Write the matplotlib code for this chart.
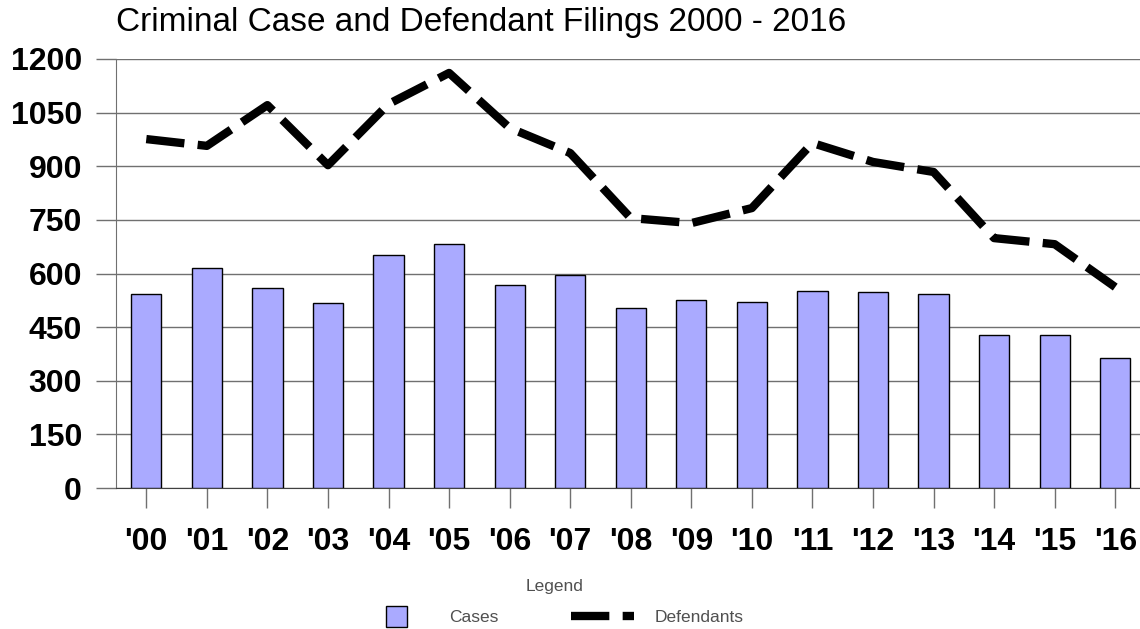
import matplotlib
matplotlib.use("Agg")
import matplotlib.pyplot as plt
import matplotlib.patches as mpatches
from matplotlib.lines import Line2D
from matplotlib.legend_handler import HandlerPatch

plt.rcParams['font.family'] = ['Liberation Sans', 'DejaVu Sans']

# ---------- data ----------
years = ["'00", "'01", "'02", "'03", "'04", "'05", "'06", "'07", "'08",
         "'09", "'10", "'11", "'12", "'13", "'14", "'15", "'16"]
cases = [543, 615, 559, 517, 652, 682, 568, 596, 503,
         526, 520, 551, 548, 543, 428, 428, 364]
defendants = [976, 957, 1071, 903, 1074, 1161, 1007, 937, 755,
              741, 783, 965, 912, 884, 699, 682, 562]
yticks = [0, 150, 300, 450, 600, 750, 900, 1050, 1200]

bar_color = '#AAAAFF'
grid_color = '#707070'

fig = plt.figure(figsize=(11.4, 6.29), dpi=100)
ax = fig.add_axes([116 / 1140, 141 / 629, 1 - 116 / 1140, 429 / 629])

x = list(range(len(years)))
ax.bar(x, cases, width=0.5, color=bar_color, edgecolor='black', linewidth=1, zorder=3)
ax.plot(x, defendants, color='black', linewidth=6, dashes=(4.6, 1.6),
        dash_capstyle='butt', zorder=4)

ax.set_xlim(-0.5, -0.5 + 1024 / 60.56)
ax.set_ylim(0, 1200)
ax.set_yticks(yticks)
ax.set_yticklabels([str(v) for v in yticks], fontsize=23, fontweight='bold')
ax.set_xticks(x)
ax.set_xticklabels(years, fontsize=23, fontweight='bold')
ax.tick_params(axis='y', length=14.4, width=1, color=grid_color, pad=10)
ax.tick_params(axis='x', length=14.4, width=1, color=grid_color, pad=14)
ax.yaxis.grid(True, color=grid_color, linewidth=1, zorder=0)
ax.set_axisbelow(True)

for side in ['top', 'right']:
    ax.spines[side].set_visible(False)
ax.spines['left'].set_color(grid_color)
ax.spines['bottom'].set_color('#404040')

fig.text(116 / 1140, 1 - 31 / 629, "Criminal Case and Defendant Filings 2000 - 2016",
         fontsize=24, va='baseline', ha='left')


# ---------- legend ----------
def square_patch(legend, orig_handle, xdescent, ydescent, width, height, fontsize):
    s = 15
    return mpatches.Rectangle((-xdescent + width / 3, -ydescent + height / 2 - s / 2), s, s)


case_handle = mpatches.Patch(facecolor=bar_color, edgecolor='black', linewidth=1)
def_handle = Line2D([], [], color='black', linewidth=6, dashes=(4.6, 1.6),
                    dash_capstyle='butt')
leg = fig.legend([case_handle, def_handle], ["Cases", "Defendants"],
                 loc='lower center', bbox_to_anchor=(0.4864, -0.019), ncol=2,
                 frameon=False, fontsize=12.5, title="Legend", title_fontsize=12.5,
                 handlelength=3.63, handletextpad=1.2, columnspacing=4.2,
                 labelspacing=0.95,
                 handler_map={mpatches.Patch: HandlerPatch(patch_func=square_patch)})
for t in leg.get_texts():
    t.set_color('#505050')
leg.get_title().set_color('#505050')

fig.savefig("out.png", dpi=100)
